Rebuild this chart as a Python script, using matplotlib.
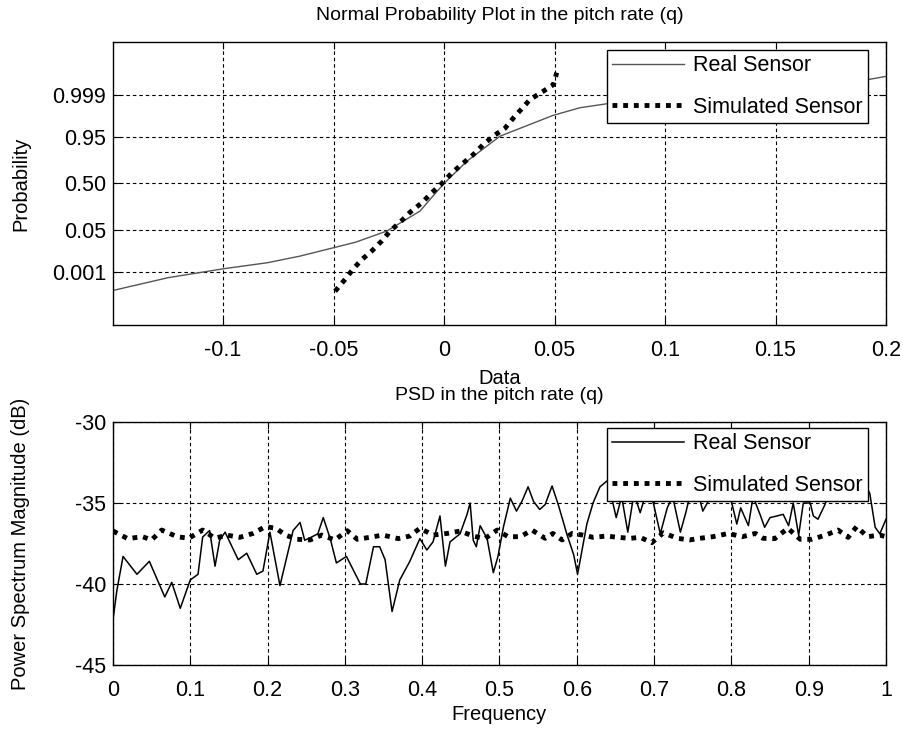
import matplotlib
matplotlib.use("Agg")
import matplotlib.pyplot as plt
import numpy as np
from statistics import NormalDist

# --- normal probability plot (top) ---
real_x = [-0.1496, -0.125, -0.0995, -0.08, -0.0652, -0.0498, -0.04, -0.0259, -0.0109,
          -0.005, 0.0, 0.0103, 0.0253, 0.0493, 0.0615, 0.1, 0.15, 0.192, 0.2]
real_p = [8.8e-5, 4.7e-4, 1.4e-3, 2.7e-3, 5.4e-3, 0.0122, 0.0197, 0.0475, 0.166,
          0.33, 0.5, 0.782, 0.9515, 0.99158, 0.99609, 0.99903, 0.99966, 0.999869, 0.999915]

sim_x = [-0.0493, -0.0448, -0.041, -0.0372, -0.0327, -0.0282, -0.0244, -0.0199, -0.0154,
         -0.0101, -0.0056, -0.001, 0.0035, 0.008, 0.0133, 0.0178, 0.0223, 0.0276, 0.0314,
         0.0389, 0.0449, 0.0495, 0.051]
sim_p = [7.8e-5, 3.8e-4, 0.0014, 0.0038, 0.0089, 0.0217, 0.0475, 0.0869, 0.156,
         0.248, 0.371, 0.5, 0.644, 0.749, 0.846, 0.915, 0.952, 0.974, 0.9893,
         0.9984, 0.9994, 0.99974, 0.99995]

prob_ticks = [0.001, 0.05, 0.50, 0.95, 0.999]
prob_labels = ['0.001', '0.05', '0.50', '0.95', '0.999']
data_ticks = [-0.1, -0.05, 0, 0.05, 0.1, 0.15, 0.2]
data_labels = ['-0.1', '-0.05', '0', '0.05', '0.1', '0.15', '0.2']

# --- PSD (bottom) ---
psd_real_f = [0.000, 0.005, 0.013, 0.031, 0.047, 0.067, 0.076, 0.087, 0.100, 0.110,
              0.116, 0.125, 0.132, 0.138, 0.145, 0.162, 0.173, 0.186, 0.194, 0.203,
              0.216, 0.233, 0.242, 0.248, 0.257, 0.265, 0.272, 0.281, 0.289, 0.302,
              0.320, 0.327, 0.337, 0.345, 0.352, 0.361, 0.371, 0.384, 0.397, 0.406,
              0.414, 0.423, 0.430, 0.436, 0.449, 0.458, 0.462, 0.466, 0.470, 0.475,
              0.484, 0.492, 0.498, 0.505, 0.514, 0.522, 0.529, 0.537, 0.544, 0.552,
              0.559, 0.568, 0.576, 0.587, 0.596, 0.601, 0.613, 0.621, 0.630, 0.640,
              0.651, 0.658, 0.666, 0.674, 0.682, 0.690, 0.699, 0.708, 0.717, 0.724,
              0.734, 0.741, 0.746, 0.754, 0.763, 0.770, 0.777, 0.788, 0.798, 0.807,
              0.812, 0.822, 0.828, 0.837, 0.843, 0.850, 0.859, 0.867, 0.874, 0.880,
              0.887, 0.893, 0.902, 0.906, 0.912, 0.921, 0.930, 0.940, 0.951, 0.961,
              0.970, 0.979, 0.986, 0.992, 1.000]
psd_real_db = [-42.2, -40.4, -38.3, -39.4, -38.6, -40.8, -39.9, -41.5, -39.75, -39.4,
               -37.1, -36.7, -38.9, -37.3, -36.8, -38.5, -38.1, -39.4, -39.2, -36.8,
               -40.1, -36.7, -36.2, -37.3, -37.1, -36.9, -35.9, -37.2, -38.7, -38.3,
               -40.0, -40.0, -37.7, -37.7, -38.5, -41.7, -39.75, -38.6, -37.2, -37.9,
               -37.4, -35.8, -38.9, -37.4, -36.9, -35.7, -35.0, -37.3, -37.7, -36.4,
               -37.2, -39.3, -38.3, -36.5, -34.7, -35.5, -34.9, -34.0, -34.9, -35.4,
               -35.1, -33.95, -35.1, -36.9, -38.2, -39.4, -36.3, -35.0, -34.0, -33.6,
               -35.9, -34.6, -36.8, -34.4, -35.6, -34.3, -35.0, -36.9, -35.3, -34.6,
               -36.8, -35.6, -34.6, -33.8, -35.5, -34.9, -34.2, -33.6, -34.5, -36.3,
               -35.3, -36.4, -34.6, -35.7, -36.5, -35.9, -35.8, -35.7, -36.4, -35.0,
               -37.0, -35.0, -35.0, -35.8, -36.0, -35.1, -33.8, -34.4, -33.9, -34.5,
               -33.6, -34.4, -36.5, -36.9, -36.0]

psd_sim_f = [0.000, 0.019, 0.038, 0.050, 0.063, 0.083, 0.098, 0.116, 0.132, 0.147,
             0.164, 0.181, 0.197, 0.211, 0.223, 0.238, 0.255, 0.270, 0.287, 0.303,
             0.316, 0.332, 0.349, 0.369, 0.384, 0.397, 0.414, 0.432, 0.449, 0.466,
             0.481, 0.497, 0.511, 0.527, 0.542, 0.559, 0.569, 0.581, 0.594, 0.608,
             0.621, 0.639, 0.653, 0.669, 0.682, 0.697, 0.712, 0.730, 0.746, 0.759,
             0.776, 0.796, 0.814, 0.831, 0.841, 0.856, 0.873, 0.889, 0.904, 0.922,
             0.938, 0.951, 0.962, 0.976, 0.992, 1.000]
psd_sim_db = [-36.73, -37.2, -37.08, -37.28, -36.67, -37.08, -37.18, -36.67, -37.18, -36.98,
              -37.12, -36.88, -36.46, -36.56, -36.98, -37.24, -37.28, -36.98, -37.28, -36.71,
              -37.24, -37.12, -36.98, -37.2, -37.04, -36.56, -36.98, -36.88, -36.73, -37.04,
              -37.2, -36.67, -37.08, -37.08, -36.67, -37.18, -36.88, -37.28, -36.88, -36.98,
              -37.12, -37.04, -37.12, -37.18, -37.12, -37.45, -36.84, -37.18, -37.28, -37.18,
              -37.08, -36.88, -37.08, -36.88, -37.18, -37.2, -36.56, -37.24, -37.24, -36.98,
              -36.67, -37.12, -36.46, -37.08, -36.98, -37.08]

freq_ticks = [0, 0.1, 0.2, 0.3, 0.4, 0.5, 0.6, 0.7, 0.8, 0.9, 1]
freq_labels = ['0', '0.1', '0.2', '0.3', '0.4', '0.5', '0.6', '0.7', '0.8', '0.9', '1']
db_ticks = [-45, -40, -35, -30]

plt.rcParams['font.family'] = ['Liberation Sans', 'DejaVu Sans']
plt.rcParams['axes.unicode_minus'] = False

nd = NormalDist()


def fwd(p):
    p = np.clip(np.asarray(p, dtype=float), 1e-12, 1 - 1e-12)
    return np.vectorize(nd.inv_cdf, otypes=[float])(p)


def inv(z):
    return np.vectorize(nd.cdf, otypes=[float])(np.asarray(z, dtype=float))


def estilo(ax):
    ax.grid(True, color='black', linestyle=(0, (3.2, 2.6)), linewidth=0.8)
    ax.tick_params(direction='in', top=True, right=True, length=5, width=0.8,
                   labelsize=15.5)
    ax.tick_params(axis='x', pad=10.5)
    ax.tick_params(axis='y', pad=5)
    for s in ax.spines.values():
        s.set_linewidth(1.0)
    ax.set_axisbelow(True)


def leyenda(ax, ytop):
    leg = ax.legend(loc='upper right', bbox_to_anchor=(0.977, ytop), borderaxespad=0,
                    fontsize=15.5, fancybox=False, framealpha=1, edgecolor='black',
                    handlelength=3.3, handletextpad=0.45, labelspacing=0.95,
                    borderpad=0.25)
    leg.get_frame().set_linewidth(1.0)
    return leg


W, H = 904, 731
fig = plt.figure(figsize=(W / 100, H / 100), dpi=100)

ax1 = fig.add_axes([113 / W, 1 - 325 / H, 773 / W, 283 / H])
ax1.set_yscale('function', functions=(fwd, inv))
ax1.plot(real_x, real_p, color='#555555', linewidth=1.0, label='Real Sensor')
ax1.plot(sim_x, sim_p, color='black', linewidth=3.5, linestyle=(0, (1, 1.2)),
         dash_capstyle='butt', label='Simulated Sensor')
ax1.set_xlim(-0.1498, 0.2)
ax1.set_ylim(3.4e-7, 1 - 3.4e-7)
ax1.set_yticks(prob_ticks)
ax1.set_yticklabels(prob_labels)
ax1.yaxis.set_minor_locator(matplotlib.ticker.NullLocator())
ax1.set_xticks(data_ticks)
ax1.set_xticklabels(data_labels)
estilo(ax1)
ax1.set_title('Normal Probability Plot in the pitch rate (q)', fontsize=14, pad=16)
ax1.set_xlabel('Data', fontsize=14.5, labelpad=6)
ax1.set_ylabel('Probability', fontsize=14.5)
ax1.yaxis.set_label_coords(-0.107, 0.5)
leyenda(ax1, 0.972)

ax2 = fig.add_axes([113 / W, 1 - 665 / H, 773 / W, 243 / H])
ax2.plot(psd_real_f, psd_real_db, color='black', linewidth=1.1, label='Real Sensor')
ax2.plot(psd_sim_f, psd_sim_db, color='black', linewidth=3.5, linestyle=(0, (1, 1.2)),
         dash_capstyle='butt', label='Simulated Sensor')
ax2.set_xlim(0, 1)
ax2.set_ylim(-45, -30)
ax2.set_xticks(freq_ticks)
ax2.set_xticklabels(freq_labels)
ax2.set_yticks(db_ticks)
estilo(ax2)
ax2.set_title('PSD in the pitch rate (q)', fontsize=14, pad=16)
ax2.set_xlabel('Frequency', fontsize=14.5, labelpad=3)
ax2.set_ylabel('Power Spectrum Magnitude (dB)', fontsize=14.5)
ax2.yaxis.set_label_coords(-0.107, 0.5)
leyenda(ax2, 0.975)

fig.savefig('out.png', dpi=100)
